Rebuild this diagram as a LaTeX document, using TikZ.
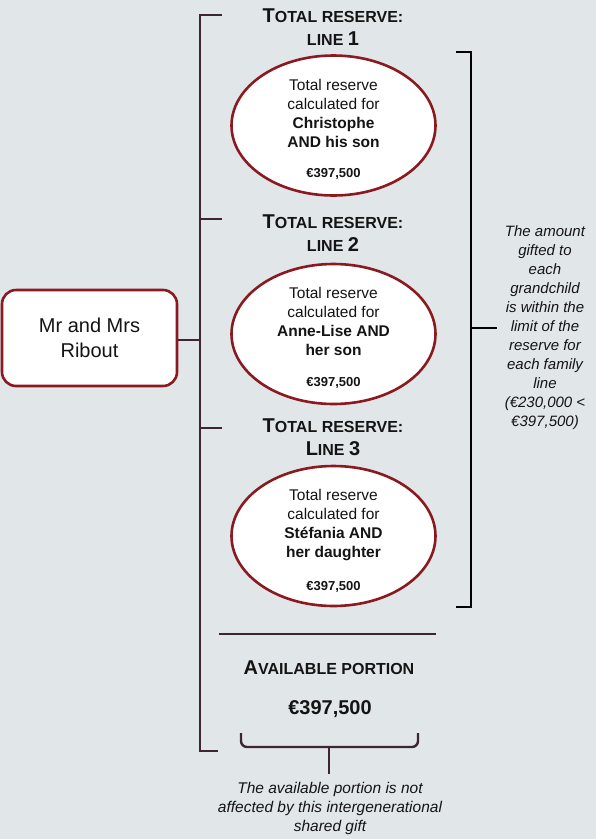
\documentclass[tikz,border=0pt]{standalone}
\usepackage{fontspec}
\setmainfont{Liberation Sans}
\usetikzlibrary{shapes.geometric}
\definecolor{bg}{RGB}{225,230,233}
\definecolor{brk}{RGB}{62,36,52}
\definecolor{dred}{RGB}{138,26,32}
\definecolor{txt}{RGB}{20,20,20}
\newcommand{\bigsc}[2]{{\fontsize{20}{24}\selectfont #1}{\fontsize{16}{24}\selectfont #2}}
\tikzset{
  brkline/.style={draw=brk,line width=2.8pt},
  blkline/.style={draw=black,line width=2.8pt},
  resell/.style={ellipse,draw=dred,line width=2.6pt,fill=white,minimum width=204pt,minimum height=140pt,inner sep=0pt},
  elltxt/.style={align=center,text=txt,font=\fontsize{15.5}{19}\selectfont,inner sep=0pt},
  ellamt/.style={text=txt,font=\bfseries\fontsize{13}{15}\selectfont,inner sep=0pt},
  head/.style={align=center,text=txt,font=\bfseries,inner sep=0pt},
  note/.style={align=center,text=txt,font=\itshape\fontsize{15}{19}\selectfont,inner sep=0pt},
}
\begin{document}
\begin{tikzpicture}[x=1pt,y=-1pt]
\path[fill=bg] (0,0) rectangle (596,839);
\useasboundingbox (0,0) rectangle (596,839);

% left box
\node[draw=dred,line width=2.6pt,fill=white,rounded corners=14pt,minimum width=175pt,minimum height=96pt,align=center,text=txt,font=\fontsize{20}{25}\selectfont] (box) at (89.5,338) {Mr and Mrs\\Ribout};

% main bracket
\coordinate (mt) at (200,15);
\coordinate (mb) at (200,751);
\coordinate (t1) at (222,15);
\coordinate (t2a) at (200,219);
\coordinate (t2) at (222,219);
\coordinate (t3a) at (200,428);
\coordinate (t3) at (222,428);
\coordinate (tb) at (218,751);
\coordinate (mc) at (200,340);
\draw[brkline] (t1) -- (mt) -- (mb) -- (tb);
\draw[brkline] (t2a) -- (t2);
\draw[brkline] (t3a) -- (t3);
\draw[brkline] (box.east |- mc) -- (mc);

% headings
\node[head] (h1a) at (333,16) {\bigsc{T}{OTAL RESERVE:}};
\node[head] (h1b) at (333,39) {\bigsc{}{LINE }\bigsc{1}{}};
\node[head] (h2a) at (333,222) {\bigsc{T}{OTAL RESERVE:}};
\node[head] (h2b) at (333,245) {\bigsc{}{LINE }\bigsc{2}{}};
\node[head] (h3a) at (333,426) {\bigsc{T}{OTAL RESERVE:}};
\node[head] (h3b) at (333,449) {\bigsc{L}{INE }\bigsc{3}{}};

% ellipses
\node[resell] (e1) at (333.5,125.5) {};
\node[elltxt] (e1t) at (333.5,113) {Total reserve\\calculated for\\\textbf{Christophe}\\\textbf{AND his son}};
\node[ellamt] (e1a) at (333.5,174) {€397,500};

\node[resell] (e2) at (333.5,334) {};
\node[elltxt] (e2t) at (333.5,321.5) {Total reserve\\calculated for\\\textbf{Anne-Lise AND}\\\textbf{her son}};
\node[ellamt] (e2a) at (333.5,382.5) {€397,500};

\node[resell] (e3) at (333.5,536) {};
\node[elltxt] (e3t) at (333.5,525.5) {Total reserve\\calculated for\\\textbf{Stéfania AND}\\\textbf{her daughter}};
\node[ellamt] (e3a) at (333.5,586.5) {€397,500};

% right bracket
\coordinate (rt0) at (456,52);
\coordinate (rt) at (471,52);
\coordinate (rb) at (471,607);
\coordinate (rb0) at (456,607);
\coordinate (rm) at (471,328);
\coordinate (rm1) at (497,328);
\draw[blkline] (rt0) -- (rt) -- (rb) -- (rb0);
\draw[blkline] (rm) -- (rm1);
\node[note] (rnote) at (545,327.5) {The amount\\gifted to\\each\\grandchild\\is within the\\limit of the\\reserve for\\each family\\line\\(€230,000 <\\€397,500)};

% divider
\coordinate (d1) at (219,634);
\coordinate (d2) at (436,634);
\draw[brkline] (d1) -- (d2);

% available portion
\node[head] (ap) at (329,668) {\bigsc{A}{VAILABLE PORTION}};
\node[head,font=\bfseries\fontsize{20}{24}\selectfont] (apv) at (330,709) {€397,500};

% bottom brace
\coordinate (bl) at (241,733);
\coordinate (br) at (418,733);
\coordinate (bm) at (329,747);
\coordinate (bs) at (329,774);
\draw[brkline,line width=2.4pt,line join=round] (bl) -- (241,741) to[out=-90,in=180] (247,747) -- (412,747) to[out=0,in=-90] (418,741) -- (br);
\draw[brkline,line width=2.4pt] (bm) -- (bs);

\node[note,font=\itshape\fontsize{15.5}{19}\selectfont] (bnote) at (330,808) {The available portion is not\\affected by this intergenerational\\shared gift};
\end{tikzpicture}
\end{document}
